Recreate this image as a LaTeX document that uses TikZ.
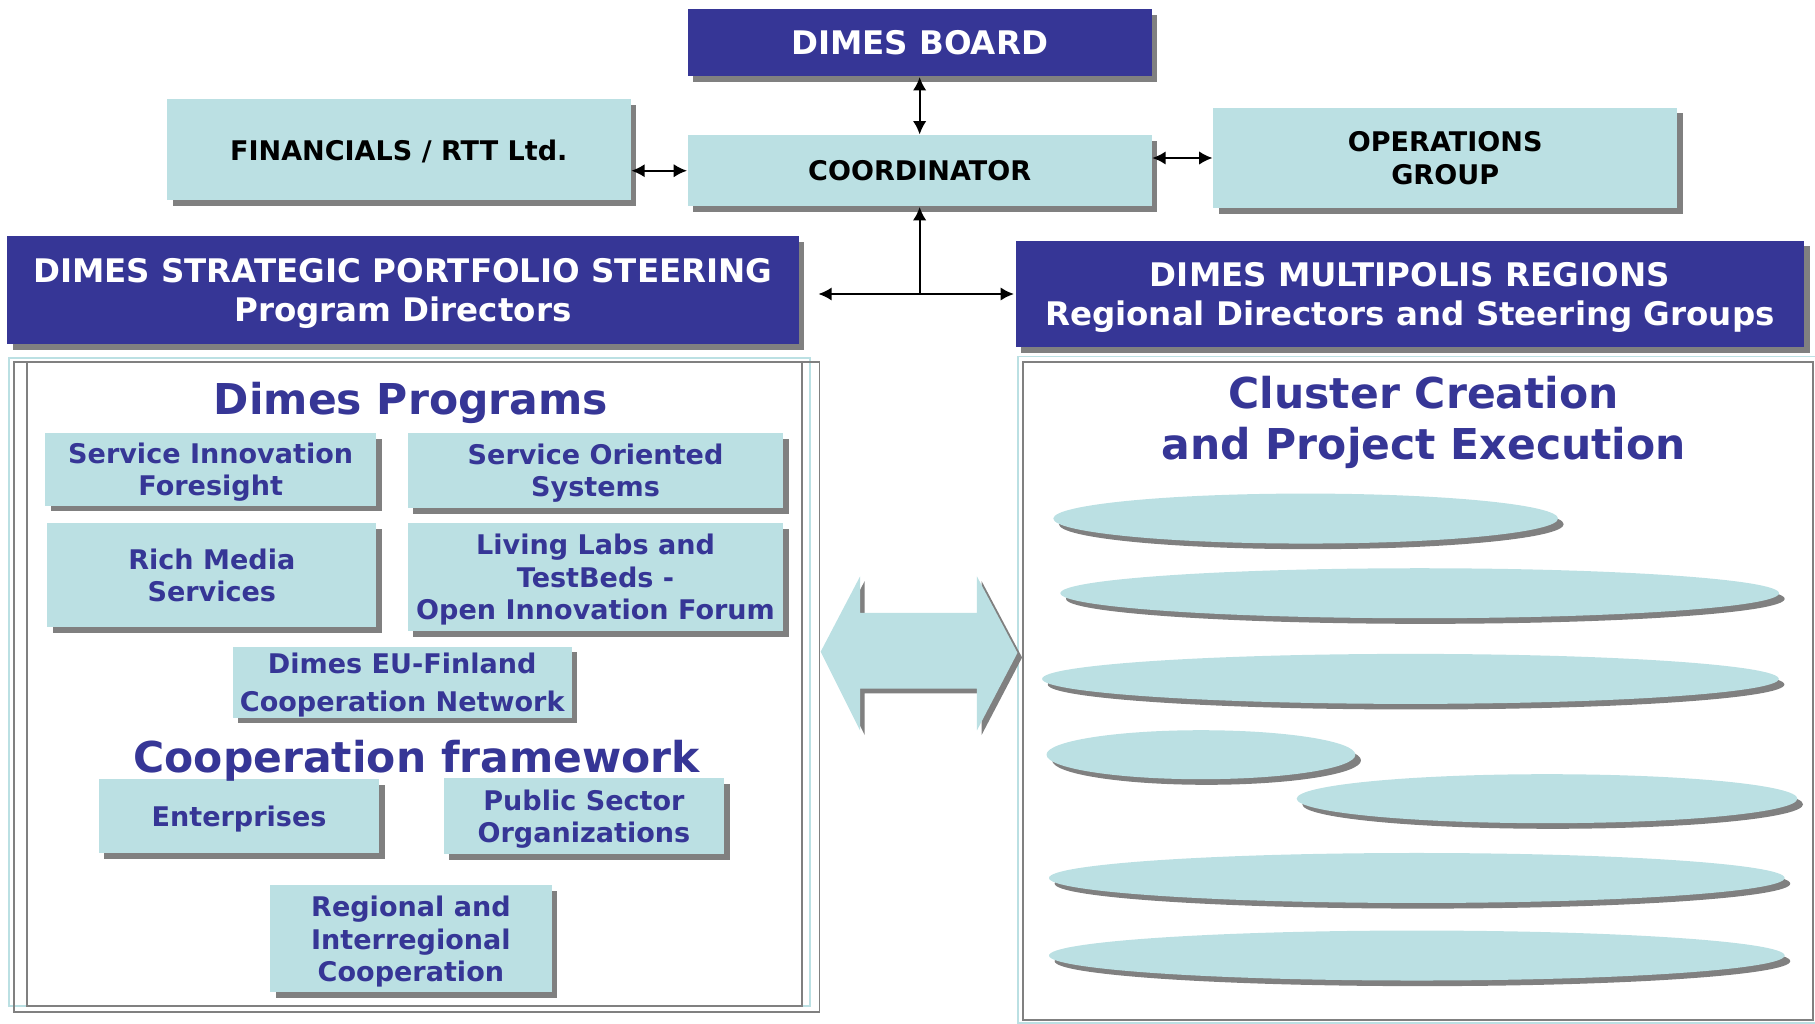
\documentclass[tikz,border=0pt]{standalone}
\usepackage{fontspec}
\setmainfont{DejaVu Sans}
\usetikzlibrary{shadows,shapes.geometric,arrows.meta}

\definecolor{dimesblue}{RGB}{54,54,150}
\definecolor{dimescyan}{RGB}{187,224,227}
\definecolor{dimesgray}{RGB}{128,128,128}

\tikzset{
    shadowed/.style={drop shadow={shadow xshift=1.6pt, shadow yshift=-1.6pt, fill=dimesgray, opacity=1}},
    darkbox/.style={shadowed, fill=dimesblue, text=white, inner sep=0pt, align=center, text depth=0pt,
        font=\bfseries\fontsize{9.25}{11.2}\selectfont},
    lightbox/.style={shadowed, fill=dimescyan, text=black, inner sep=0pt, align=center, text depth=0pt,
        font=\bfseries\fontsize{7.7}{9.2}\selectfont},
    progbox/.style={lightbox, text=dimesblue},
    bigtitle/.style={text=dimesblue, inner sep=0pt, align=center,
        font=\bfseries\fontsize{12.1}{14.5}\selectfont},
    cluster/.style={shadowed, ellipse, fill=dimescyan, inner sep=0pt, minimum height=0.5cm},
    link/.style={draw, line width=0.6pt, {Latex[length=3.8pt,width=3.8pt]}-{Latex[length=3.8pt,width=3.8pt]}}
}

\begin{document}
\begin{tikzpicture}[x=0.011575cm, y=-0.011575cm]
        \useasboundingbox (0,0) rectangle (1568,884);

        % panel frames
        \draw[dimescyan, line width=0.5pt] (8,309) rectangle (700,869);
        \draw[dimesgray, line width=0.5pt] (12,313) rectangle (708,874);
        \draw[dimesgray, line width=0.5pt] (23,313) rectangle (693,869);
        \draw[dimescyan, line width=0.5pt] (879.5,308) rectangle (1570,884);
        \draw[dimesgray, line width=0.5pt] (884,312.5) rectangle (1566,881);

        \begin{scope}[every node/.style={darkbox}]
            \node[minimum width=4.64cm, minimum height=0.67cm] (board) at (794.5,37) {DIMES BOARD};
            \node[minimum width=7.92cm, minimum height=1.08cm] (portfolio) at (348,250.5)
                {DIMES STRATEGIC PORTFOLIO STEERING\\Program Directors};
            \node[minimum width=7.89cm, minimum height=1.07cm] (multipolis) at (1218,254)
                {DIMES MULTIPOLIS REGIONS\\Regional Directors and Steering Groups};
        \end{scope}

        \begin{scope}[every node/.style={lightbox}]
            \node[minimum width=4.64cm, minimum height=1.01cm] (fin) at (344.5,129.5) {FINANCIALS / RTT Ltd.};
            \node[minimum width=4.64cm, minimum height=0.71cm] (coord) at (794.5,147.5) {COORDINATOR};
            \node[minimum width=4.64cm, minimum height=1.01cm] (ops) at (1248.5,136.5) {OPERATIONS\\GROUP};
        \end{scope}

        \begin{scope}[every node/.style={progbox}]
            \node[minimum width=3.31cm, minimum height=0.73cm] (sif) at (182,405.5) {Service Innovation\\Foresight};
            \node[minimum width=3.76cm, minimum height=0.75cm] (sos) at (514.5,406.5) {Service Oriented\\Systems};
            \node[minimum width=3.29cm, minimum height=1.04cm] (rms) at (183,497) {Rich Media\\Services};
            \node[minimum width=3.76cm, minimum height=1.08cm] (llt) at (514.5,498.5)
                {Living Labs and\\TestBeds -\\Open Innovation Forum};
            \node[minimum width=3.39cm, minimum height=0.71cm] (euf) at (347.5,589.5)
                {Dimes EU-Finland\\[1.7pt]Cooperation Network};
            \node[minimum width=2.81cm, minimum height=0.74cm] (ent) at (206.5,705) {Enterprises};
            \node[minimum width=2.81cm, minimum height=0.76cm] (pso) at (504.5,705) {Public Sector\\Organizations};
            \node[minimum width=2.82cm, minimum height=1.07cm] (ric) at (355,811)
                {Regional and\\Interregional\\Cooperation};
        \end{scope}

        \begin{scope}[every node/.style={bigtitle}]
            \node (progtitle) at (355,348) {Dimes Programs};
            \node (cooptitle) at (360,657) {Cooperation framework};
            \node (clustertitle) at (1230,365) {Cluster Creation\\and Project Execution};
        \end{scope}

        \begin{scope}[every node/.style={cluster}]
            \node[minimum width=5.05cm] (c1) at (1128,448) {};
            \node[minimum width=7.19cm] (c2) at (1226.5,512.5) {};
            \node[minimum width=7.37cm] (c3) at (1218.5,586.5) {};
            \node[minimum width=3.09cm, minimum height=0.49cm] (c4) at (1037.5,652) {};
            \node[minimum width=5.01cm, minimum height=0.49cm] (c5) at (1336.5,690) {};
            \node[minimum width=7.36cm] (c6) at (1224,758.5) {};
            \node[minimum width=7.36cm] (c7) at (1224,825.5) {};
        \end{scope}

        % wide two-way arrow between the panels
        \fill[dimesgray] (713,567) -- (747,502) -- (747,533.5) -- (848,533.5) -- (848,502) -- (883,568)
            -- (848,635) -- (848,599) -- (747,599) -- (747,635) -- cycle;
        \fill[dimescyan] (709,563) -- (743,498) -- (743,529.5) -- (844,529.5) -- (844,498) -- (879,564)
            -- (844,631) -- (844,595) -- (743,595) -- (743,631) -- cycle;

        \coordinate (tee) at (794.5,254);
        \coordinate (teeleft) at (707,254);
        \coordinate (teeright) at (876,254);
        \begin{scope}[every edge/.style={link}]
            \path (board) edge (coord);
            \path (coord.west) edge (fin.east |- coord.west);
            \path (coord.east |- ops.west) edge (ops.west);
            \path (teeleft) edge (teeright);
        \end{scope}
        \draw[line width=0.6pt, -{Latex[length=3.8pt,width=3.8pt]}] (tee) -- (coord);
    \end{tikzpicture}
\end{document}
